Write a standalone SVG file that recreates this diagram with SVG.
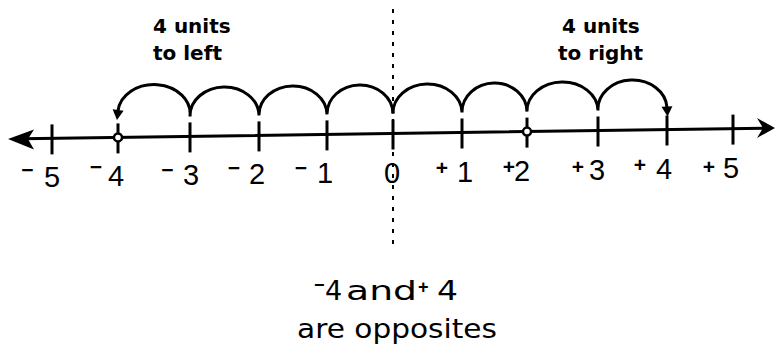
<svg xmlns="http://www.w3.org/2000/svg" width="777" height="351" viewBox="0 0 777 351">
<style>
.ln{stroke:#000;stroke-width:3;fill:none;stroke-linecap:round}
.tk{stroke:#000;stroke-width:3;fill:none}
.arc{stroke:#000;stroke-width:3;fill:none}
.dash{stroke:#000;stroke-width:2;stroke-dasharray:4 7;fill:none}
.dot{fill:#fff;stroke:#000;stroke-width:2.5}
.num{font-family:"Liberation Sans",Arial,sans-serif;font-size:29px;fill:#000}
.sg{font-family:"Liberation Sans",Arial,sans-serif;font-weight:bold;font-size:21px;fill:#000}
.hd{font-family:"DejaVu Sans",sans-serif;font-weight:bold;font-size:20px;fill:#000}
.bt{font-family:"DejaVu Sans",sans-serif;font-size:27px;fill:#000}
.bs{font-family:"Liberation Sans",Arial,sans-serif;font-weight:bold;font-size:18px}
</style>
<defs>
<marker id="ah" markerUnits="userSpaceOnUse" markerWidth="14" markerHeight="14" viewBox="-2 -7 14 14" refX="1" refY="0" orient="auto">
<path d="M0,-5.5 L10,0 L0,5.5 z" fill="#000"/>
</marker>
</defs>
<g id="axis">
<line class="ln" x1="22" y1="138.8" x2="766" y2="128.1"/>
<path d="M8,139 L34,129.5 L28,139 L34,149.5 z" fill="#000"/>
<path d="M775,128 L757,118 L763,128 L757,138 z" fill="#000"/>
</g>
<g id="ticks">
<line class="tk" x1="52" y1="124.4" x2="52" y2="154.4"/>
<line class="tk" x1="118" y1="123.4" x2="118" y2="153.4"/>
<line class="tk" x1="190" y1="122.4" x2="190" y2="152.4"/>
<line class="tk" x1="259" y1="121.4" x2="259" y2="151.4"/>
<line class="tk" x1="327" y1="120.4" x2="327" y2="150.4"/>
<line class="tk" x1="393" y1="119.5" x2="393" y2="149.5"/>
<line class="tk" x1="462" y1="118.5" x2="462" y2="148.5"/>
<line class="tk" x1="527" y1="117.6" x2="527" y2="147.6"/>
<line class="tk" x1="598" y1="116.5" x2="598" y2="146.5"/>
<line class="tk" x1="667" y1="115.5" x2="667" y2="145.5"/>
<line class="tk" x1="733" y1="114.6" x2="733" y2="144.6"/>
</g>
<g id="divider">
<line class="dash" x1="393" y1="9" x2="393" y2="245"/>
</g>
<g id="connectors">
<path id="hops-left" class="arc" marker-end="url(#ah)" d="M393,113.5 A33,29 0 0 0 327,114.4 A34,29 0 0 0 259,115.4 A34.5,29 0 0 0 190,116.4 A36,29 0 0 0 118,111"/>
<path id="hops-right" class="arc" marker-end="url(#ah)" d="M393,113.5 A34.5,29 0 0 1 462,112.5 A32.5,29 0 0 1 527,111.6 A35.5,29 0 0 1 598,110.5 A34.5,29 0 0 1 667,107.5"/>
</g>
<g id="points">
<circle class="dot" cx="118" cy="137.4" r="4"/>
<circle class="dot" cx="527" cy="131.6" r="4"/>
</g>
<g id="labels">
<text class="sg" x="27.5" y="177" text-anchor="middle">−</text>
<text class="num" x="52" y="187.4" text-anchor="middle">5</text>
<text class="sg" x="96" y="174" text-anchor="middle">−</text>
<text class="num" x="116" y="186.4" text-anchor="middle">4</text>
<text class="sg" x="167.5" y="177" text-anchor="middle">−</text>
<text class="num" x="191" y="185.4" text-anchor="middle">3</text>
<text class="sg" x="234" y="175" text-anchor="middle">−</text>
<text class="num" x="257" y="184.4" text-anchor="middle">2</text>
<text class="sg" x="301" y="175" text-anchor="middle">−</text>
<text class="num" x="325" y="183.4" text-anchor="middle">1</text>
<text class="num" x="392" y="182.5" text-anchor="middle">0</text>
<text class="sg" x="442" y="175" text-anchor="middle">+</text>
<text class="num" x="465" y="181.5" text-anchor="middle">1</text>
<text class="sg" x="509" y="174" text-anchor="middle">+</text>
<text class="num" x="522" y="180.6" text-anchor="middle">2</text>
<text class="sg" x="578" y="174" text-anchor="middle">+</text>
<text class="num" x="597" y="179.5" text-anchor="middle">3</text>
<text class="sg" x="640" y="172" text-anchor="middle">+</text>
<text class="num" x="664" y="178.5" text-anchor="middle">4</text>
<text class="sg" x="709" y="174" text-anchor="middle">+</text>
<text class="num" x="731" y="177.6" text-anchor="middle">5</text>
</g>
<g id="note-left">
<text class="hd" x="153" y="33">4 units</text>
<text class="hd" x="153" y="60">to left</text>
</g>
<g id="note-right">
<text class="hd" x="562" y="33">4 units</text>
<text class="hd" x="558" y="60">to right</text>
</g>
<g id="caption">
<text class="bt" y="300"><tspan class="bs" x="314" y="291">−</tspan><tspan x="325" y="300">4</tspan><tspan x="346" y="300" textLength="71" lengthAdjust="spacingAndGlyphs">and</tspan><tspan class="bs" x="418" y="293">+</tspan><tspan x="437" y="300" textLength="21" lengthAdjust="spacingAndGlyphs">4</tspan></text>
<text class="bt" x="297" y="338" textLength="200" lengthAdjust="spacingAndGlyphs">are opposites</text>
</g>
</svg>
